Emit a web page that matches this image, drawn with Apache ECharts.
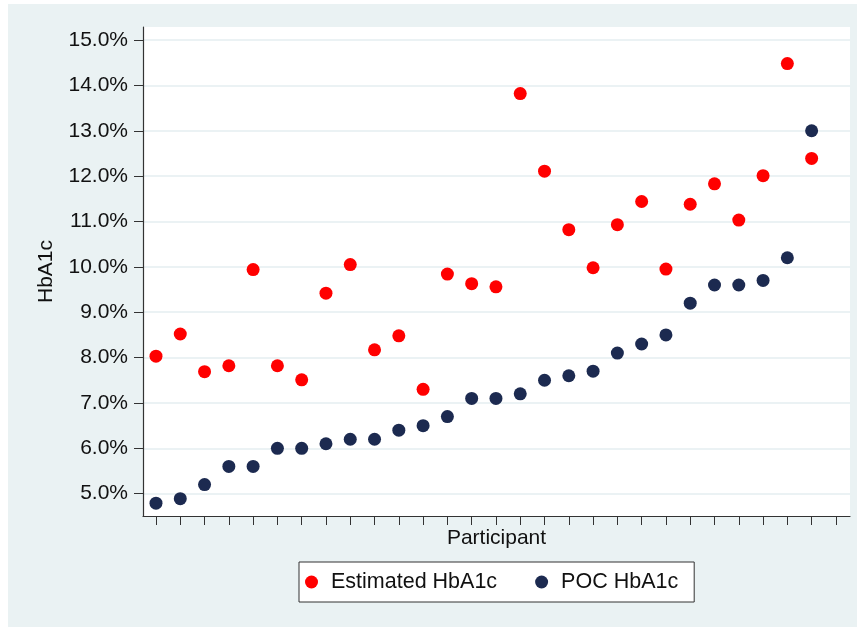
<!DOCTYPE html>
<html>
<head>
<meta charset="utf-8">
<script src="https://cdn.jsdelivr.net/npm/echarts@6/dist/echarts.min.js"></script>
<style>
  html, body { margin: 0; padding: 0; background: #ffffff; }
  #wrap { position: relative; width: 857px; height: 627px; background: #ffffff; }
  #chart { position: absolute; left: 8px; top: 4px; width: 849px; height: 623px; background: #eaf2f3; }
</style>
</head>
<body>
<div id="wrap"><div id="chart"></div></div>
<script>
// Participant index (x)
const participants = [1,2,3,4,5,6,7,8,9,10,11,12,13,14,15,16,17,18,19,20,21,22,23,24,25,26,27,28];
// Estimated HbA1c (%)
const estimatedHbA1c = [8.03,8.52,7.69,7.82,9.94,7.82,7.51,9.42,10.05,8.17,8.48,7.30,9.84,9.63,9.56,13.82,12.11,10.82,9.98,10.93,11.44,9.95,11.38,11.83,11.03,12.01,14.48,12.39];
// POC HbA1c (%)
const pocHbA1c = [4.79,4.89,5.20,5.60,5.60,6.00,6.00,6.10,6.20,6.20,6.40,6.50,6.70,7.10,7.10,7.20,7.50,7.60,7.70,8.10,8.30,8.50,9.20,9.60,9.60,9.70,10.20,13.00];
// Tick values
const yTicks = [5,6,7,8,9,10,11,12,13,14,15];
const xTicks = [1,2,3,4,5,6,7,8,9,10,11,12,13,14,15,16,17,18,19,20,21,22,23,24,25,26,27,28,29];
const seriesNames = ['Estimated HbA1c', 'POC HbA1c'];

const FONT = '"Liberation Sans", Arial, sans-serif';
const chart = echarts.init(document.getElementById('chart'), null, { renderer: 'canvas' });

const estData = participants.map((p, i) => [p, estimatedHbA1c[i]]);
const pocData = participants.map((p, i) => [p, pocHbA1c[i]]);

chart.setOption({
  animation: false,
  backgroundColor: 'transparent',
  textStyle: { fontFamily: FONT },
  grid: {
    left: 135, right: 7, top: 23, bottom: 111,
    show: true, backgroundColor: '#ffffff', borderWidth: 0,
    containLabel: false
  },
  xAxis: {
    type: 'value',
    min: 0.465, max: 29.58,
    name: 'Participant',
    nameLocation: 'middle',
    nameGap: 12,
    nameTextStyle: { fontFamily: FONT, fontSize: 21, color: '#111', verticalAlign: 'top' },
    axisLine: { show: true, onZero: false, lineStyle: { color: '#333', width: 1.2 } },
    axisTick: { show: true, inside: false, length: 9, customValues: xTicks, lineStyle: { color: '#333', width: 1 } },
    axisLabel: { show: false },
    splitLine: { show: false }
  },
  yAxis: {
    type: 'value',
    min: 4.508, max: 15.287,
    name: 'HbA1c',
    nameLocation: 'middle',
    nameGap: 86,
    nameRotate: 90,
    nameTextStyle: { fontFamily: FONT, fontSize: 21, color: '#111' },
    axisLine: { show: true, onZero: false, lineStyle: { color: '#333', width: 1.2 } },
    axisTick: { show: true, inside: false, length: 9, customValues: yTicks, lineStyle: { color: '#333', width: 1 } },
    axisLabel: {
      show: true, customValues: yTicks, margin: 15,
      fontFamily: FONT, fontSize: 21, color: '#111',
      formatter: v => v.toFixed(1) + '%'
    },
    splitLine: { show: true, lineStyle: { color: '#e4eef0', width: 1.5 } }
  },
  legend: {
    show: true,
    data: seriesNames,
    left: 291, top: 558,
    orient: 'horizontal',
    icon: 'circle',
    itemWidth: 13, itemHeight: 13,
    itemGap: 38,
    padding: [9, 16, 9, 6],
    backgroundColor: '#ffffff',
    borderColor: '#333',
    borderWidth: 1,
    borderRadius: 0,
    textStyle: { fontFamily: FONT, fontSize: 21.5, color: '#111', padding: [0, 0, 0, 8] }
  },
  series: [
    {
      name: seriesNames[0], type: 'scatter', data: estData,
      symbol: 'circle', symbolSize: 13,
      itemStyle: { color: '#ff0000', opacity: 1 }
    },
    {
      name: seriesNames[1], type: 'scatter', data: pocData,
      symbol: 'circle', symbolSize: 13,
      itemStyle: { color: '#1c2a50', opacity: 1 }
    }
  ]
});
</script>
</body>
</html>
